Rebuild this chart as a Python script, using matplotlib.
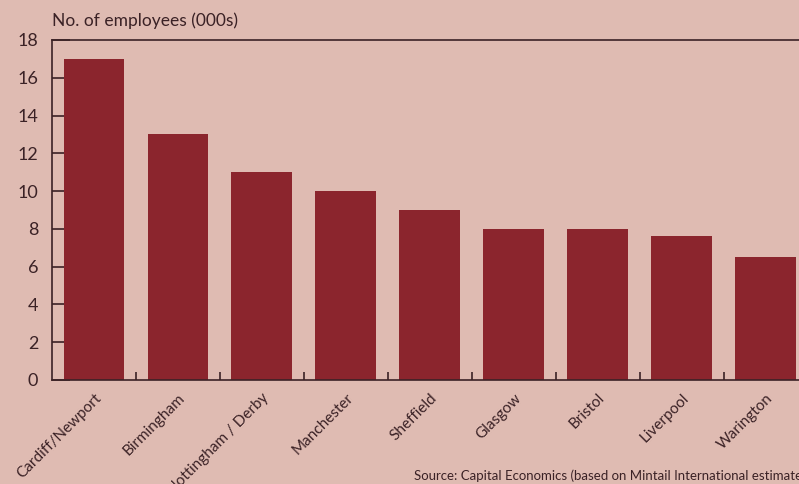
import matplotlib.pyplot as plt
import numpy as np

cities = ["Cardiff/Newport", "Birmingham", "Nottingham / Derby", "Manchester",
          "Sheffield", "Glasgow", "Bristol", "Liverpool", "Warington"]
employees = [17.0, 13.0, 11.0, 10.0, 9.0, 8.0, 8.0, 7.6, 6.5]
y_ticks = list(range(0, 19, 2))

BG = "#dfbbb2"
BAR = "#8b252d"
INK = "#3b2226"

plt.rcParams["font.family"] = ["Lato", "DejaVu Sans"]

fig = plt.figure(figsize=(7.99, 4.84), dpi=100, facecolor=BG)
ax = fig.add_axes([0.0651, 0.2149, 0.946, 0.7025], facecolor=BG)

x = np.arange(len(cities))
ax.bar(x, employees, width=0.726, color=BAR, zorder=2)

ax.set_xlim(-0.5, len(cities) - 0.5)
ax.set_ylim(0, 18)
ax.set_axisbelow(True)

ax.set_yticks(y_ticks)
ax.tick_params(axis="y", direction="in", length=13, width=1.2, color=INK,
               labelsize=13, labelcolor=INK, pad=10)

ax.set_xticks(x)
ax.set_xticklabels(cities, rotation=45, ha="right", rotation_mode="anchor")
ax.tick_params(axis="x", which="major", length=0, labelsize=11, labelcolor=INK, pad=8)
ax.set_xticks(x[:-1] + 0.5, minor=True)
ax.tick_params(axis="x", which="minor", direction="in", length=6, width=1.2, color=INK)

for s in ["left", "bottom", "top", "right"]:
    ax.spines[s].set_color(INK)
    ax.spines[s].set_linewidth(1.2)

fig.text(52 / 799, 1 - 21 / 484, "No. of employees (000s)", fontsize=12.5,
         color=INK, ha="left", va="center")
fig.text(414 / 799, 1 - 476 / 484,
         "Source: Capital Economics (based on Mintail International estimates)",
         fontsize=9.5, color=INK, ha="left", va="center")

plt.savefig("out.png", dpi=100, facecolor=BG)
plt.close()
